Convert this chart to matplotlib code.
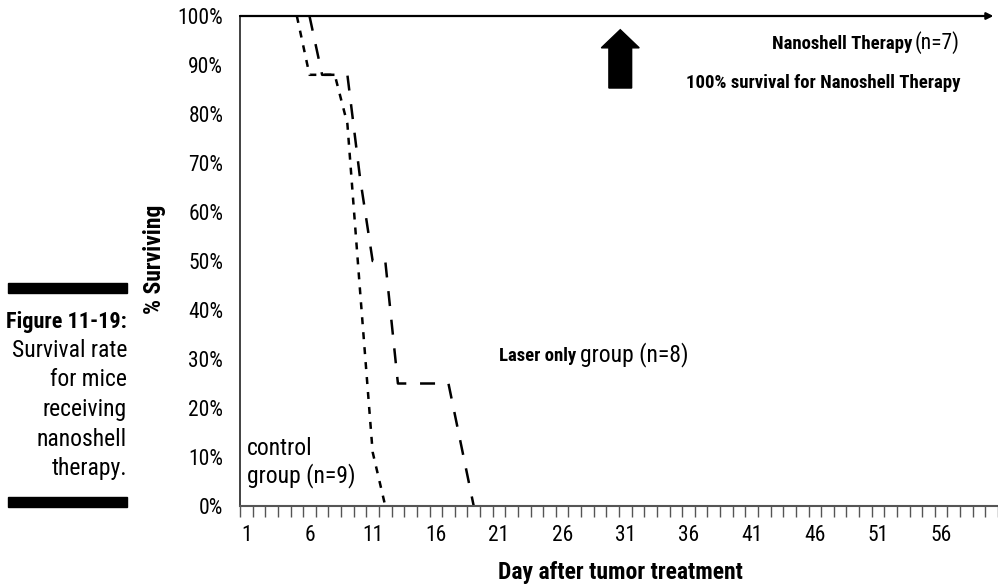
import matplotlib
matplotlib.use("Agg")
import matplotlib.pyplot as plt
from matplotlib import font_manager as fm
from matplotlib.patches import FancyArrow, Rectangle
import numpy as np

# ---- data ----
control_days = [5, 6, 7, 8, 9, 10, 11, 12]
control_pct = [100, 88, 88, 88, 78, 44, 11, 0]

laser_days = [6, 7, 8, 9, 10, 11, 12, 13, 14, 15, 16, 17, 18, 19]
laser_pct = [100, 88, 88, 88, 67, 50, 50, 25, 25, 25, 25, 25, 12.5, 0]

nanoshell_pct = 100
n_days = 60
tick_days = list(range(1, 57, 5))
y_ticks = list(range(0, 101, 10))

caption = ["Survival rate", "for mice", "receiving", "nanoshell", "therapy."]

# pick a narrow face if one is around (reference uses a condensed grotesque)
entries = fm.fontManager.ttflist
names = {f.name for f in entries}
family = None
for cand in ["Roboto Condensed", "DejaVu Sans Condensed", "Liberation Sans Narrow",
             "Open Sans Condensed", "Noto Sans Condensed", "Arial Narrow"]:
    if cand in names:
        family = cand
        break
if family is None:
    narrow = [f.name for f in entries
              if ("Condensed" in f.name or "Narrow" in f.name)]
    family = narrow[0] if narrow else None
STRETCH = "normal"
if family is None:
    cond = [f.name for f in entries
            if str(f.stretch) in ("condensed", "semi-condensed", "extra-condensed")
            and f.name in ("DejaVu Sans", "Noto Sans", "Open Sans", "Roboto")]
    if cond:
        family = cond[0]
        STRETCH = "condensed"
    else:
        family = "Roboto"
plt.rcParams["font.family"] = [family, "DejaVu Sans"]
plt.rcParams["font.stretch"] = STRETCH

W, H = 998, 585
fig = plt.figure(figsize=(W / 100, H / 100), dpi=100)
ax = fig.add_axes([240 / W, 79 / H, 758 / W, 490 / H])


def px(x, y):
    return x / W, 1 - y / H


# survival curves
ax.plot(control_days, control_pct, color="black", lw=1.8, dashes=(2.8, 3.2))
ax.plot(laser_days, laser_pct, color="black", lw=1.8, dashes=(6, 5.5))

xmax = 0.5 + 758 / 12.7
ax.set_xlim(0.5, xmax)
ax.set_ylim(0, 100)

# nanoshell group stays at 100% -> line with arrow to the right
ax.annotate("", xy=(xmax - 0.05, nanoshell_pct), xytext=(0.5, nanoshell_pct),
            arrowprops=dict(arrowstyle="-|>", color="black", lw=1.6,
                            mutation_scale=10, shrinkA=0, shrinkB=0),
            annotation_clip=False)

for s in ["top", "right"]:
    ax.spines[s].set_visible(False)
ax.spines["left"].set_color("#333333")
ax.spines["left"].set_linewidth(1.3)
ax.spines["bottom"].set_color("#555555")
ax.spines["bottom"].set_linewidth(1.5)

ax.set_xticks(tick_days)
ax.set_xticklabels([str(d) for d in tick_days], fontsize=15.5)
ax.set_xticks(np.arange(0.5, n_days + 1, 1), minor=True)
ax.tick_params(axis="x", which="major", length=0, pad=14)
ax.tick_params(axis="x", which="minor", length=8, width=1, color="#555555", direction="out")

ax.set_yticks(y_ticks)
ax.set_yticklabels([f"{v}%" for v in y_ticks], fontsize=15.5)
ax.tick_params(axis="y", length=0, pad=12)

# axis titles placed by hand
fig.text(*px(620, 572), "Day after tumor treatment", ha="center", va="center",
         fontsize=17, fontweight="bold")
fig.text(*px(154, 259), "% Surviving", ha="center", va="center", rotation=90,
         fontsize=17, fontweight="bold")

# big up arrow
ax.add_patch(FancyArrow(30.6, 85.3, 0, 11.9, width=1.8, head_width=3.0,
                        head_length=3.7, length_includes_head=True,
                        color="black", clip_on=False))


def mixed(x_right, y_base, bold_txt, reg_txt, bsize=13.5, rsize=17, left=None):
    # bold part followed by a regular part on one baseline
    if left is None:
        t2 = fig.text(*px(x_right, y_base), reg_txt, ha="right", va="baseline", fontsize=rsize)
        fig.canvas.draw()
        bb = t2.get_window_extent()
        fig.text(bb.x0 / W - 3 / W, 1 - y_base / H, bold_txt, ha="right", va="baseline",
                 fontsize=bsize, fontweight="bold")
    else:
        t1 = fig.text(*px(left, y_base), bold_txt, ha="left", va="baseline",
                      fontsize=bsize, fontweight="bold")
        fig.canvas.draw()
        bb = t1.get_window_extent()
        fig.text(bb.x1 / W + 4 / W, 1 - y_base / H, reg_txt, ha="left", va="baseline",
                 fontsize=rsize)


mixed(960, 49, "Nanoshell Therapy", "(n=7)", rsize=15.5)
fig.text(*px(960, 88), "100% survival for Nanoshell Therapy", ha="right", va="baseline",
         fontsize=13.5, fontweight="bold")
mixed(None, 361, "Laser only", "group (n=8)", left=499)
fig.text(*px(247, 455), "control", ha="left", va="baseline", fontsize=17)
fig.text(*px(247, 482), "group (n=9)", ha="left", va="baseline", fontsize=17)

# caption on the left
fig.patches.append(Rectangle(px(8, 293), 119 / W, 10 / H, transform=fig.transFigure,
                             color="black"))
fig.patches.append(Rectangle(px(8, 507), 119 / W, 10 / H, transform=fig.transFigure,
                             color="black"))
fig.text(*px(127, 328), "Figure 11-19:", ha="right", va="baseline", fontsize=16,
         fontweight="bold")
for i, line in enumerate(caption):
    fig.text(*px(127, 357 + 29.5 * i), line, ha="right", va="baseline", fontsize=17)

fig.savefig("out.png", dpi=100)
